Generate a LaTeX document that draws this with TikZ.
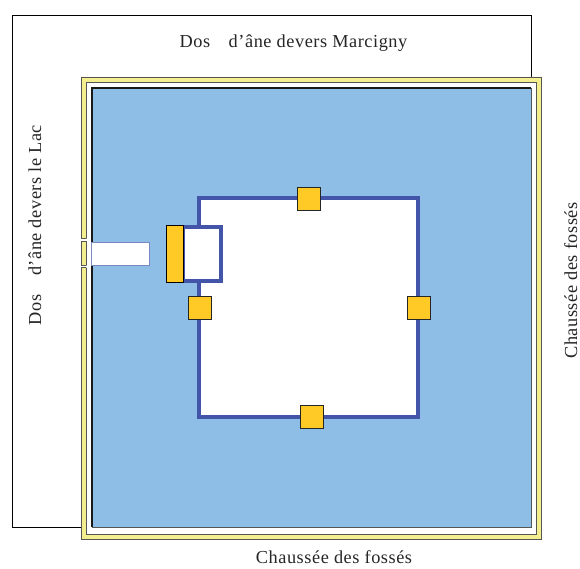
\documentclass[tikz,border=0pt]{standalone}
\usepackage{fontspec}
\setmainfont[LetterSpace=3]{Liberation Serif}
\definecolor{wallyellow}{HTML}{F3EE8E}
\definecolor{moatblue}{HTML}{8EBEE6}
\definecolor{keepblue}{HTML}{4355A8}
\definecolor{towerorange}{HTML}{FFC926}
\definecolor{edgegrey}{HTML}{555555}
\tikzset{
  lbl/.style={font=\fontsize{18.3bp}{20bp}\selectfont,text=black!85,inner sep=0pt,anchor=base},
  tower/.style={draw=black!85,line width=1bp,fill=towerorange,inner sep=0pt,minimum size=23bp},
  wallpart/.style={draw=edgegrey,line width=.8bp,fill=wallyellow}
}
\begin{document}
\begin{tikzpicture}[x=1bp,y=-1bp]
\useasboundingbox (0,0) rectangle (580,569);
\fill[white] (0,0) rectangle (580,569);
\draw[black,line width=.8bp] (12,15) rectangle (531,527);
\fill[white] (86,82) rectangle (536,534);
\fill[wallpart,even odd rule] (81,77) rectangle (541.5,539) (86,82) rectangle (536,534);
\fill[white] (80,238.5) rectangle (87,241) (80,265.5) rectangle (87,267.5);
\draw[edgegrey,line width=.8bp] (81,238) -- (86,238) (81,241.5) -- (86,241.5) (81,265) -- (86,265) (81,267.5) -- (86,267.5);
\fill[moatblue] (92,88) rectangle (531,527);
\draw[black!90,line width=1.8bp] (92,527) -- (92,88) -- (531,88);
\draw[edgegrey,line width=1bp] (531,88) -- (531,527) -- (92,527);
\node[draw=keepblue!70,line width=1bp,fill=white,inner sep=0pt,minimum width=58bp,minimum height=23bp] (entry) at (120,253.5) {};
\node[draw=keepblue,line width=3.4bp,fill=white,inner sep=0pt,minimum width=219bp,minimum height=219bp] (keep) at (308.5,307.5) {};
\node[draw=keepblue,line width=3.4bp,fill=white,inner sep=0pt,minimum width=38bp,minimum height=54bp] (annex) at (202,254) {};
\node[draw=black,line width=1bp,fill=towerorange,inner sep=0pt,minimum width=16.5bp,minimum height=56.5bp] (gate) at (174.8,254) {};
\node[tower] (tn) at (309,199) {};
\node[tower] (te) at (418.5,308) {};
\node[tower] (ts) at (311.5,417) {};
\node[tower] (tw) at (199.5,307.5) {};
\node[lbl] (m) at (293.5,47.5) {Dos\hspace{18.5bp}d’âne devers Marcigny};
\node[lbl,rotate=90] (l) at (41,225) {Dos\hspace{18.5bp}d’âne devers le Lac};
\node[lbl,rotate=90] (r) at (577,280.5) {Chaussée des fossés};
\node[lbl] (b) at (334,563) {Chaussée des fossés};
\end{tikzpicture}
\end{document}
